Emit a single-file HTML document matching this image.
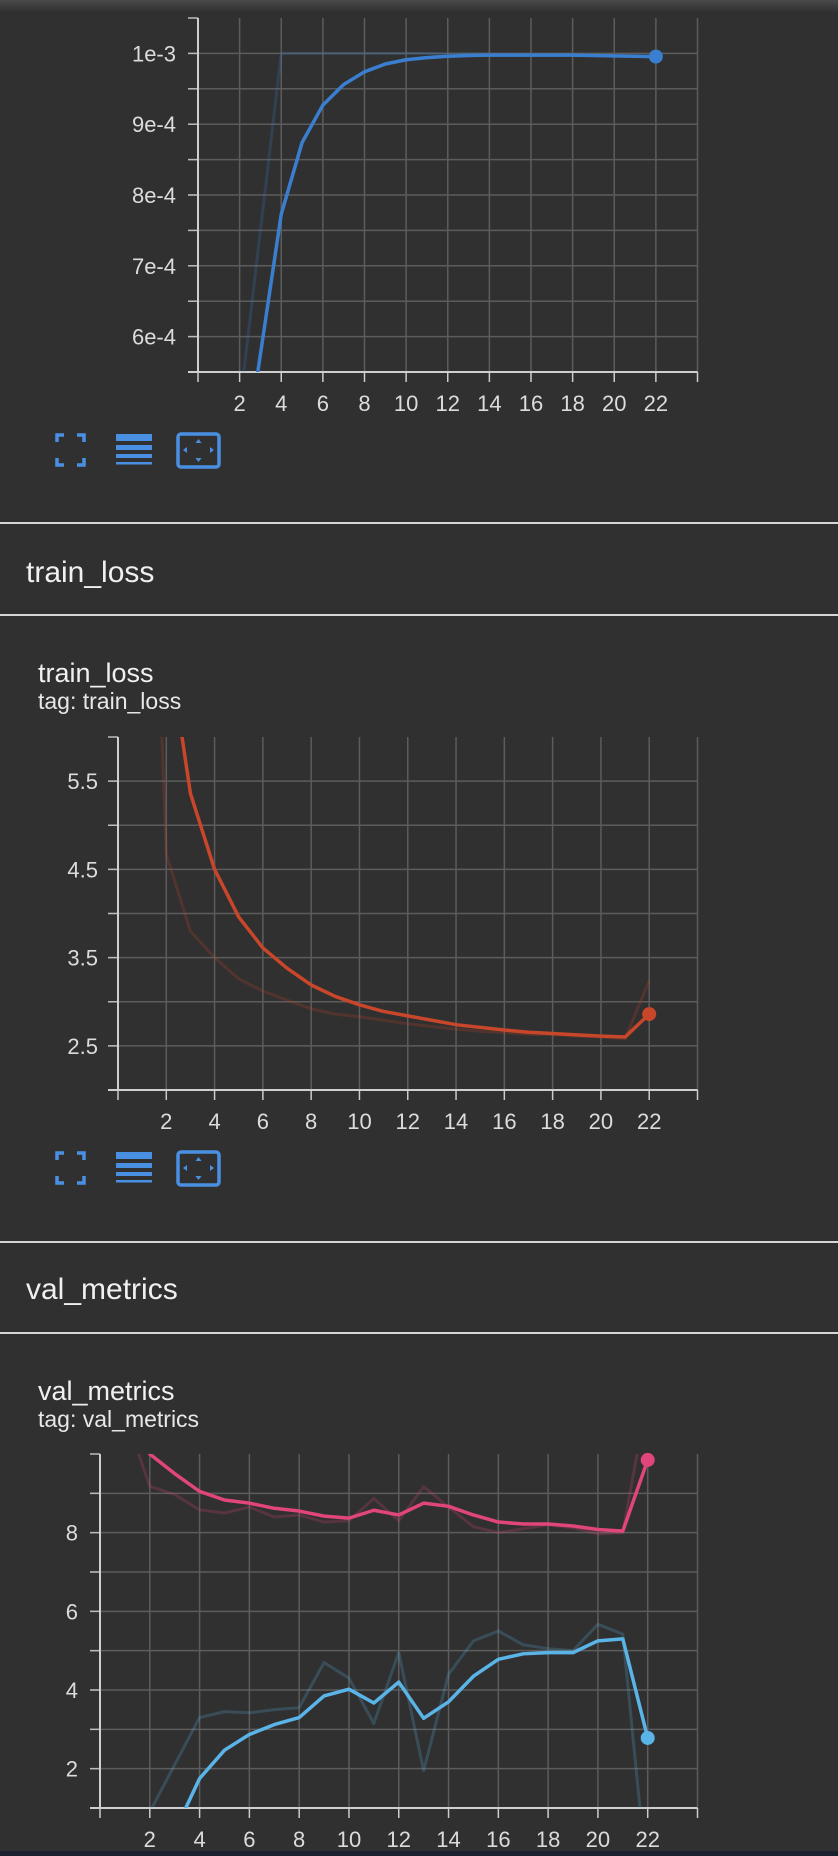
<!DOCTYPE html>
<html><head><meta charset="utf-8">
<style>
html,body{margin:0;padding:0;background:#303030;}
body{width:838px;height:1856px;overflow:hidden;position:relative;font-family:"Liberation Sans",sans-serif;}
svg{position:absolute;left:0;top:0;}
</style></head>
<body>
<svg id="page" width="838" height="1856" viewBox="0 0 838 1856" xmlns="http://www.w3.org/2000/svg">
<defs><linearGradient id="topg" x1="0" y1="0" x2="0" y2="1"><stop offset="0" stop-color="#4a4a4a"/><stop offset="1" stop-color="#303030"/></linearGradient></defs>
<rect x="0" y="0" width="838" height="1856" fill="#303030"/>
<rect x="0" y="0" width="838" height="12" fill="url(#topg)"/>
<rect x="0" y="522" width="838" height="2" fill="#d6d6d6"/>
<text x="26" y="582" fill="#f0f0f0" font-size="30">train_loss</text>
<rect x="0" y="614" width="838" height="2" fill="#d6d6d6"/>
<text x="38" y="682" fill="#f0f0f0" font-size="27">train_loss</text>
<text x="38" y="709" fill="#e8e8e8" font-size="23">tag: train_loss</text>
<rect x="0" y="1241" width="838" height="2" fill="#d6d6d6"/>
<text x="26" y="1299" fill="#f0f0f0" font-size="30">val_metrics</text>
<rect x="0" y="1332" width="838" height="2" fill="#d6d6d6"/>
<text x="38" y="1400" fill="#f0f0f0" font-size="27">val_metrics</text>
<text x="38" y="1427" fill="#e8e8e8" font-size="23">tag: val_metrics</text>
<rect x="0" y="1851" width="838" height="5" fill="#1b2030"/>
<g id="charts"></g>
</svg>
<script>
// ---- Chart 1: learning rate ----
const lrSteps = [1,2,3,4,5,6,7,8,9,10,11,12,13,14,15,16,17,18,19,20,21,22];
const lrRaw = [2.5e-4,5e-4,7.5e-4,1e-3,1e-3,1e-3,1e-3,1e-3,1e-3,1e-3,1e-3,0.999e-3,0.999e-3,0.999e-3,0.998e-3,0.998e-3,0.998e-3,0.997e-3,0.997e-3,0.996e-3,0.996e-3,0.995e-3];
const lrSmooth = [2.0e-4,3.8e-4,5.75e-4,7.73e-4,8.74e-4,9.27e-4,9.56e-4,9.74e-4,9.85e-4,9.91e-4,9.94e-4,9.96e-4,9.97e-4,9.975e-4,9.975e-4,9.975e-4,9.975e-4,9.975e-4,9.97e-4,9.965e-4,9.96e-4,9.955e-4];
const lrYTicks = [6e-4,7e-4,8e-4,9e-4,1e-3];
const lrYLabels = ["6e-4","7e-4","8e-4","9e-4","1e-3"];
// ---- Chart 2: train loss ----
const lossSteps = [1,2,3,4,5,6,7,8,9,10,11,12,13,14,15,16,17,18,19,20,21,22];
const lossRaw = [12,4.67,3.8,3.5,3.26,3.12,3.02,2.92,2.86,2.83,2.79,2.75,2.72,2.69,2.665,2.65,2.63,2.63,2.61,2.6,2.58,3.24];
const lossSmooth = [12,7.2,5.36,4.5,3.96,3.61,3.38,3.19,3.06,2.965,2.89,2.84,2.79,2.74,2.71,2.68,2.655,2.64,2.625,2.61,2.6,2.86];
const lossYTicks = [2.5,3.5,4.5,5.5];
const lossYLabels = ["2.5","3.5","4.5","5.5"];
// ---- Chart 3: val metrics ----
const valSteps = [1,2,3,4,5,6,7,8,9,10,11,12,13,14,15,16,17,18,19,20,21,22];
const valPinkRaw = [11,9.18,8.97,8.58,8.5,8.65,8.4,8.45,8.27,8.3,8.87,8.3,9.17,8.65,8.15,8.0,8.1,8.2,8.12,7.97,8.0,11.5];
const valPinkSmooth = [11,10.0,9.5,9.05,8.83,8.75,8.62,8.55,8.42,8.37,8.57,8.45,8.75,8.67,8.45,8.27,8.22,8.22,8.17,8.08,8.04,9.85];
const valBlueRaw = [-0.5,0.9,2.1,3.3,3.45,3.42,3.5,3.55,4.7,4.3,3.15,4.95,1.95,4.4,5.25,5.5,5.15,5.05,5.0,5.67,5.42,-1];
const valBlueSmooth = [-1.5,-0.6,0.4,1.75,2.47,2.87,3.12,3.3,3.85,4.02,3.67,4.2,3.28,3.7,4.35,4.78,4.92,4.95,4.95,5.25,5.3,2.78];
const valYTicks = [2,4,6,8];
const valYLabels = ["2","4","6","8"];
const xTicks = [2,4,6,8,10,12,14,16,18,20,22];
const xTickLabels = ["2","4","6","8","10","12","14","16","18","20","22"];

const NS = "http://www.w3.org/2000/svg";
const root = document.getElementById('charts');
function mk(tag, attrs, parent){const e=document.createElementNS(NS,tag);for(const k in attrs)e.setAttribute(k,attrs[k]);(parent||root).appendChild(e);return e;}

function chart(cfg){
  const g = mk('g',{});
  
  
  const sx = v => cfg.x0 + (v-0)/(24-0)*(cfg.x1-cfg.x0);
  const sy = v => cfg.y1 - (v-cfg.ymin)/(cfg.ymax-cfg.ymin)*(cfg.y1-cfg.y0);
  const clipId = cfg.name+'-clip';
  const cp = mk('clipPath',{id:clipId},g);
  mk('rect',{x:cfg.x0,y:cfg.y0,width:cfg.x1-cfg.x0,height:cfg.y1-cfg.y0},cp);
  // horizontal grid
  for(let v=cfg.ymin+cfg.gstep; v<cfg.ymax-1e-12; v+=cfg.gstep){
    const l = mk('line',{x1:cfg.x0-10,x2:cfg.x1,y1:sy(v),y2:sy(v),stroke:'#5c5c5c','stroke-width':1.5},g);
    
    
    mk('line',{x1:cfg.x0-10,x2:cfg.x0,y1:sy(v),y2:sy(v),stroke:'#bbb','stroke-width':1.5},g);
  }
  mk('line',{x1:cfg.x0-10,x2:cfg.x0,y1:cfg.y0,y2:cfg.y0,stroke:'#bbb','stroke-width':1.5},g);
  // vertical grid
  for(let i=0;i<=12;i++){
    const x = sx(i*2);
    const l = mk('line',{x1:x,x2:x,y1:cfg.y0,y2:cfg.y1,stroke:'#5c5c5c','stroke-width':1.5},g);
    
    
    mk('line',{x1:x,x2:x,y1:cfg.y1,y2:cfg.y1+10,stroke:'#ccc','stroke-width':1.5},g);
  }
  // axes
  const ya = mk('line',{x1:cfg.x0,x2:cfg.x0,y1:cfg.y0,y2:cfg.y1,stroke:'#cfcfcf','stroke-width':2},g);
  
  
  const xa = mk('line',{x1:cfg.x0-10,x2:cfg.x1,y1:cfg.y1,y2:cfg.y1,stroke:'#cfcfcf','stroke-width':2},g);
  
  
  cfg.yTicks.forEach((v,i)=>{
    const t = mk('text',{x:cfg.x0-cfg.labelGap,y:sy(v)+8,'text-anchor':'end',fill:'#dcdcdc','font-size':22},g);
    t.textContent = cfg.yLabels[i];
    
    
  });
  xTicks.forEach((v,i)=>{
    const t = mk('text',{x:sx(v),y:cfg.y1+39,'text-anchor':'middle',fill:'#dcdcdc','font-size':22},g);
    t.textContent = xTickLabels[i];
    
    
  });
  const pg = mk('g',{'clip-path':'url(#'+clipId+')'},g);
  cfg.series.forEach(s=>{
    const pts = cfg.steps.map((st,i)=>sx(st)+','+sy(s.vals[i])).join(' ');
    const p = mk('polyline',{points:pts,fill:'none',stroke:s.color,'stroke-width':s.raw?3:3.5,'stroke-opacity':s.raw?0.22:1,'stroke-linejoin':'round'},pg);
    
    
    if(!s.raw){
      const n=cfg.steps.length-1;
      const c = mk('circle',{cx:sx(cfg.steps[n]),cy:sy(s.vals[n]),r:7,fill:s.color},g);
      
      
    }
  });
  // toolbar icons
  const iy = cfg.iconY;
  const tb = mk('g',{fill:'none',stroke:'#4a90e2'},g);
  
  
  const f = mk('path',{d:`M57 ${iy-8}v-7h7 M77 ${iy-15}h7v7 M84 ${iy+8}v7h-7 M64 ${iy+15}h-7v-7`,'stroke-width':3.5},tb);
  
  
  const lg = mk('g',{fill:'#4a90e2',stroke:'none'},tb);
  
  
  mk('rect',{x:116,y:iy-16,width:36,height:7},lg);
  mk('rect',{x:116,y:iy-5,width:36,height:5},lg);
  mk('rect',{x:116,y:iy+4,width:36,height:4},lg);
  mk('rect',{x:116,y:iy+12,width:36,height:2.5},lg);
  const fb = mk('g',{},tb);
  
  
  mk('rect',{x:178,y:iy-16,width:41,height:33,rx:3,'stroke-width':3.5},fb);
  mk('path',{d:`M198.5 ${iy-11}l-3 4h6z M198.5 ${iy+12}l-3 -4h6z M183 ${iy}l4 -3v6z M214 ${iy}l-4 -3v6z`,fill:'#4a90e2',stroke:'none'},fb);
}

chart({name:'learning-rate-chart',x0:198,x1:697.5,y0:18,y1:372,ymin:5.5e-4,ymax:1.05e-3,gstep:0.5e-4,
  yTicks:lrYTicks,yLabels:lrYLabels,labelGap:22,steps:lrSteps,iconY:450,
  series:[{name:'lr-raw-line',vals:lrRaw,color:'#3a7fcf',raw:true},{name:'lr-smoothed-line',vals:lrSmooth,color:'#3a7fcf'}]});
chart({name:'train-loss-chart',x0:118,x1:697.5,y0:737,y1:1090,ymin:2,ymax:6,gstep:0.5,
  yTicks:lossYTicks,yLabels:lossYLabels,labelGap:20,steps:lossSteps,iconY:1168,
  series:[{name:'loss-raw-line',vals:lossRaw,color:'#c8462a',raw:true},{name:'loss-smoothed-line',vals:lossSmooth,color:'#c8462a'}]});
chart({name:'val-metrics-chart',x0:100,x1:697.5,y0:1454,y1:1808,ymin:1,ymax:10,gstep:1,
  yTicks:valYTicks,yLabels:valYLabels,labelGap:22,steps:valSteps,iconY:-100,
  series:[{name:'val-pink-raw-line',vals:valPinkRaw,color:'#e0457b',raw:true},{name:'val-blue-raw-line',vals:valBlueRaw,color:'#5ab4e8',raw:true},
          {name:'val-pink-smoothed-line',vals:valPinkSmooth,color:'#e0457b'},{name:'val-blue-smoothed-line',vals:valBlueSmooth,color:'#5ab4e8'}]});
</script>
</body></html>
